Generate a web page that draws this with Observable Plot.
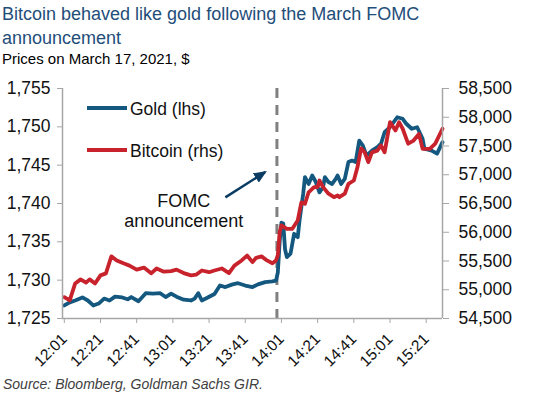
<!DOCTYPE html>
<html><head><meta charset="utf-8">
<script src="https://cdn.jsdelivr.net/npm/d3@7"></script>
<script src="https://cdn.jsdelivr.net/npm/@observablehq/plot@0.6"></script>
<style>
body{margin:0;background:#fff;font-family:Arial,"Liberation Sans",sans-serif;width:554px;height:396px;overflow:hidden;position:relative}
#title{position:absolute;left:2px;top:2px;font-size:18px;line-height:24px;color:#1f4e7a;white-space:nowrap}
#subtitle{position:absolute;left:2px;top:50px;font-size:15px;line-height:18px;color:#000;white-space:nowrap}
#chart{position:absolute;left:0;top:68px}
#source{position:absolute;left:3px;top:376px;font-size:14px;line-height:16px;font-style:italic;color:#404040;white-space:nowrap}
.legline{position:absolute;width:40px;height:0}
.legtext{position:absolute;font-size:17.5px;line-height:20px;color:#111;white-space:nowrap}
</style></head>
<body>
<div id="title">Bitcoin behaved like gold following the March FOMC<br>announcement</div>
<div id="subtitle">Prices on March 17, 2021, $</div>
<div id="chart"></div>
<div class="legline" style="left:87px;top:106px;border-top:4px solid #14587f"></div>
<div class="legtext" style="left:130px;top:99px">Gold (lhs)</div>
<div class="legline" style="left:87px;top:148px;border-top:4px solid #c8232c"></div>
<div class="legtext" style="left:130px;top:141px">Bitcoin (rhs)</div>
<div id="source">Source: Bloomberg, Goldman Sachs GIR.</div>
<script>
// ---- data ----
const goldTimes = ["12:01","12:04","12:07","12:11","12:14","12:17","12:20","12:23","12:26","12:29","12:33","12:36","12:38","12:42","12:46","12:50","12:54","12:57","13:00","13:03","13:07","13:11","13:13","13:15","13:17","13:20","13:24","13:27","13:30","13:34","13:37","13:41","13:45","13:48","13:52","13:56","13:58","13:59","14:00","14:01","14:02","14:03","14:04","14:06","14:08","14:10","14:11","14:13","14:14","14:16","14:18","14:20","14:22","14:24","14:25","14:27","14:29","14:31","14:32","14:34","14:36","14:38","14:40","14:42","14:44","14:46","14:48","14:51","14:54","14:56","14:58","15:01","15:05","15:08","15:10","15:13","15:16","15:19","15:20","15:24","15:27","15:30"];
const goldPrices = [1726.7,1727.1,1727.35,1727.75,1727.35,1726.7,1726.95,1727.6,1727.35,1727.85,1727.75,1727.5,1727.8,1727.25,1728.3,1728.25,1728.3,1727.8,1728.25,1727.85,1727.45,1727.35,1727.6,1728.3,1727.35,1727.7,1728.2,1729.3,1729.1,1729.45,1729.6,1729.3,1729.1,1729.45,1729.75,1729.85,1729.95,1731.0,1735.0,1737.5,1737.4,1734.0,1733.0,1733.45,1736.05,1735.6,1737.8,1741.25,1743.45,1742.55,1743.65,1742.8,1741.45,1742.15,1743.45,1742.8,1742.55,1743.2,1743.65,1742.55,1743.2,1745.4,1745.6,1745.4,1748.2,1747.55,1746.25,1746.9,1747.35,1747.8,1749.3,1749.95,1751.25,1751.05,1750.4,1749.75,1749.95,1748.45,1747.15,1746.9,1746.5,1748.0];
const btcTimes = ["12:01","12:04","12:07","12:10","12:13","12:15","12:18","12:21","12:24","12:27","12:30","12:34","12:37","12:41","12:45","12:49","12:52","12:56","13:00","13:03","13:07","13:11","13:14","13:17","13:21","13:24","13:28","13:32","13:35","13:39","13:42","13:45","13:47","13:50","13:53","13:56","13:58","13:59","14:00","14:01","14:04","14:07","14:10","14:12","14:14","14:16","14:19","14:21","14:22","14:24","14:27","14:30","14:32","14:33","14:36","14:38","14:41","14:43","14:45","14:47","14:49","14:51","14:54","14:56","14:58","15:01","15:04","15:06","15:08","15:11","15:14","15:17","15:19","15:23","15:26","15:30"];
const btcPrices = [54870,54815,55110,55180,55125,55180,55110,55250,55285,55580,55510,55455,55420,55350,55385,55285,55370,55315,55325,55350,55290,55250,55265,55335,55305,55335,55370,55290,55420,55510,55595,55480,55555,55580,55510,55460,55510,55600,56000,56120,56060,56060,56205,56520,56495,56695,56785,56785,56900,56785,56670,56610,56640,56610,56670,56840,56900,57130,57460,57390,57220,57390,57420,57510,57390,57915,57770,57915,57800,57540,57595,57710,57450,57450,57540,57800];
const xTickLabels = ["12:01","12:21","12:41","13:01","13:21","13:41","14:01","14:21","14:41","15:01","15:21"];
const goldTicks = [1725,1730,1735,1740,1745,1750,1755];
const btcTicks = [54500,55000,55500,56000,56500,57000,57500,58000,58500];
const fomcTime = "13:58:30";
const annotationText = "FOMC\nannouncement";

// ---- helpers ----
const toMin = s => { const [h,m,sec] = s.split(":").map(Number); return (h-12)*60 + m + (sec||0)/60; };
const fmtMin = m => `${12+Math.floor(m/60)}:${String(Math.round(m%60)).padStart(2,"0")}`;
const btcToGold = d3.scaleLinear().domain([btcTicks[0], btcTicks[btcTicks.length-1]]).range([goldTicks[0], goldTicks[goldTicks.length-1]]);
const gold = goldTimes.map((t,i)=>({x:toMin(t), y:goldPrices[i]}));
const btc = btcTimes.map((t,i)=>({x:toMin(t), y:btcToGold(btcPrices[i])}));
const grey = "#a6a6a6";
const arrowColor = "#0b3c64";

const svg = Plot.plot({
  width:554, height:308, marginTop:20, marginBottom:58, marginLeft:62, marginRight:112,
  style:{fontFamily:"Arial, 'Liberation Sans', sans-serif", fontSize:"17.5px", color:"#111", background:"#fff", overflow:"visible"},
  x:{type:"linear", domain:[toMin("12:00"), toMin("15:30")]},
  y:{domain:[goldTicks[0], goldTicks[goldTicks.length-1]]},
  marks:[
    Plot.ruleX([toMin(fomcTime)], {stroke:"#808080", strokeWidth:3, strokeDasharray:"10,7"}),
    Plot.line(gold, {x:"x", y:"y", stroke:"#14587f", strokeWidth:3.8, strokeLinejoin:"round"}),
    Plot.line(btc, {x:"x", y:"y", stroke:"#c8232c", strokeWidth:3.8, strokeLinejoin:"round"}),
    Plot.ruleX([toMin("12:00"), toMin("15:30")], {stroke:grey, strokeWidth:1.5}),
    Plot.ruleY([goldTicks[0]], {stroke:grey, strokeWidth:1.5}),
    Plot.axisX({ticks:xTickLabels.map(toMin), tickFormat:fmtMin, tickRotate:-45, tickSize:5, tickPadding:13, fontSize:15.5, stroke:grey, fill:"#111", label:null}),
    Plot.axisY({anchor:"left", ticks:goldTicks, tickFormat:d3.format(","), tickSize:5, tickPadding:7, stroke:grey, fill:"#111", label:null}),
    Plot.axisY({anchor:"right", ticks:btcTicks.map(btcToGold), tickFormat:g=>d3.format(",")(Math.round(btcToGold.invert(g))), tickSize:6, tickPadding:10, stroke:grey, fill:"#111", label:null}),
    Plot.text([annotationText], {x:()=>toMin("13:07"), y:()=>1739.1, text:d=>d, fontSize:18, lineHeight:1.11, fill:"#111"}),
    Plot.link([0], {x1:()=>toMin("13:30"), y1:()=>1740.8, x2:()=>toMin("13:52"), y2:()=>1744.1, stroke:arrowColor, strokeWidth:2.5})
  ]
});
document.getElementById("chart").appendChild(svg);
// filled arrowhead on the annotation link
const s = d3.select(svg);
s.append("defs").append("marker").attr("id","ahead").attr("viewBox","0 0 13 11").attr("refX",11).attr("refY",5.5)
 .attr("markerWidth",13).attr("markerHeight",11).attr("markerUnits","userSpaceOnUse").attr("orient","auto")
 .append("path").attr("d","M0,0L13,5.5L0,11Z").attr("fill",arrowColor);
s.selectAll('g[aria-label="link"] path').attr("marker-end","url(#ahead)");
</script>
</body></html>
